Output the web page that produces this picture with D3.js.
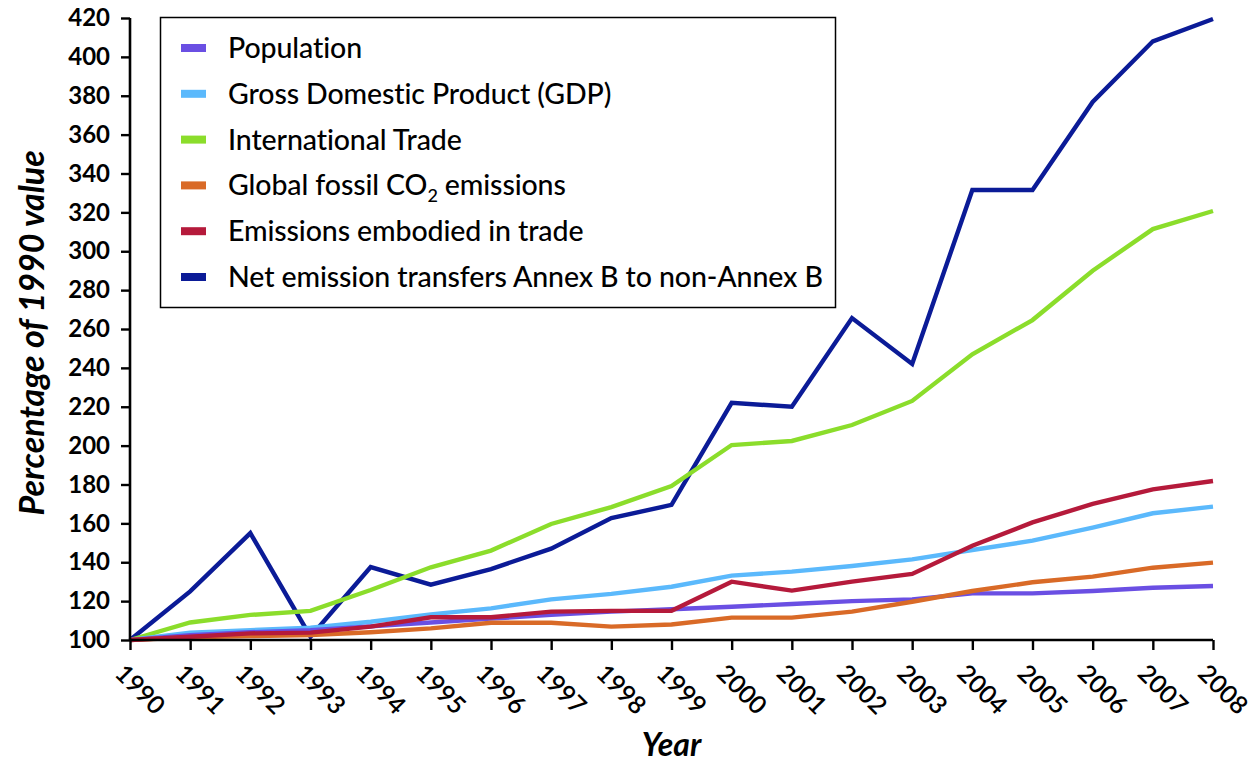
<!DOCTYPE html>
<html>
<head>
<meta charset="utf-8">
<script src="https://cdn.jsdelivr.net/npm/d3@7"></script>
<style>
  body { margin: 0; background: #fff; }
  svg { display: block; }
</style>
</head>
<body>
<div id="chart"></div>
<script>
// values (percent of 1990 value)
var years = [1990, 1991, 1992, 1993, 1994, 1995, 1996, 1997, 1998, 1999,
             2000, 2001, 2002, 2003, 2004, 2005, 2006, 2007, 2008];
var population = [100, 102.5, 104, 105, 107, 109, 111, 112.9, 114.6, 115.8,
                  117.1, 118.5, 120, 120.9, 124, 124, 125.2, 126.9, 127.8];
var gdp = [100, 103.8, 105.1, 106.3, 109.4, 113.2, 116.3, 120.9, 123.7, 127.4,
           133.1, 135.2, 138.1, 141.5, 146.3, 151.1, 157.8, 165.2, 168.6];
var trade = [100, 109, 112.9, 115, 125.7, 137.4, 146, 159.7, 168.4, 179.2,
             200.3, 202.4, 210.6, 223, 247, 264.6, 290, 311.4, 320.7];
var fossilCO2 = [100, 101.4, 102, 102.6, 104, 106, 108.9, 108.9, 106.9, 108,
                 111.5, 111.5, 114.6, 119.7, 125.2, 129.7, 132.6, 137.2, 139.8];
var embodied = [100, 101.7, 103.4, 103.8, 106.9, 111.7, 111.7, 114.6, 115, 115,
                130, 125.4, 130, 134, 148.5, 160.5, 170, 177.5, 181.8];
var netTransfers = [100, 125, 155, 101.7, 137.5, 128.5, 136.5, 147, 162.7, 169.5,
                    222, 220, 265.6, 242, 331.5, 331.5, 376.8, 408, 419.5];
var yTicks = d3.range(100, 421, 20);

var seriesNames = ["Population", "Gross Domestic Product (GDP)", "International Trade",
                   "Global fossil CO2 emissions", "Emissions embodied in trade",
                   "Net emission transfers Annex B to non-Annex B"];
var seriesColors = ["#6a4fe3", "#5bb9fc", "#8bdd2b", "#d96a27", "#b51a3b", "#0b1b97"];
var seriesValues = [population, gdp, trade, fossilCO2, embodied, netTransfers];
// drawing order, bottom to top
var drawOrder = [5, 2, 1, 0, 3, 4];

var w = 1258;
var h = 763;
var margin = {left: 130, right: 45, top: 18, bottom: 123};

var svg = d3.select("#chart")
    .append("svg")
    .attr("width", w)
    .attr("height", h);

var x = d3.scaleLinear()
    .domain([1990, 2008])
    .range([margin.left, w - margin.right]);

var y = d3.scaleLinear()
    .domain([100, 420])
    .range([h - margin.bottom, margin.top]);

var font = "Lato, 'Open Sans', sans-serif";

// lines
var line = d3.line()
    .x(function(d, i) { return x(years[i]); })
    .y(function(d) { return y(d); });

svg.selectAll("path.series")
    .data(drawOrder)
    .enter()
    .append("path")
    .attr("class", "series")
    .attr("d", function(k) { return line(seriesValues[k]); })
    .attr("fill", "none")
    .attr("stroke", function(k) { return seriesColors[k]; })
    .attr("stroke-width", 4.4)
    .attr("stroke-linejoin", "miter");

// y axis
var yAxis = svg.append("g")
    .attr("transform", "translate(" + margin.left + ",0)")
    .call(d3.axisLeft(y).tickValues(yTicks).tickSize(9).tickPadding(11));
yAxis.select(".domain").attr("stroke-width", 2.6).attr("d",
    "M0," + y(420) + "V" + y(100));
yAxis.selectAll(".tick line").attr("stroke-width", 2.4);
yAxis.selectAll(".tick text")
    .attr("font-family", font)
    .attr("font-weight", "bold")
    .attr("font-size", "24px")
    .attr("fill", "#000");

// x axis
var xAxis = svg.append("g")
    .attr("transform", "translate(0," + (h - margin.bottom) + ")")
    .call(d3.axisBottom(x).tickValues(years).tickFormat(d3.format("d")).tickSize(10));
xAxis.select(".domain").attr("stroke-width", 2.6).attr("d",
    "M" + x(1990) + ",0H" + x(2008));
xAxis.selectAll(".tick line").attr("stroke-width", 2.4);
xAxis.selectAll(".tick text")
    .attr("font-family", font)
    .attr("font-weight", "600")
    .attr("font-size", "25px")
    .attr("fill", "#000")
    .attr("text-anchor", "start")
    .attr("x", 0)
    .attr("y", 0)
    .attr("dy", "0")
    .attr("transform", "translate(-17,35) rotate(45)");

// axis titles
svg.append("text")
    .attr("transform", "translate(44," + y(258) + ") rotate(-90)")
    .attr("text-anchor", "middle")
    .attr("font-family", font)
    .attr("font-weight", "bold")
    .attr("font-style", "italic")
    .attr("font-size", "34px")
    .text("Percentage of 1990 value");

svg.append("text")
    .attr("x", x(1999))
    .attr("y", 756)
    .attr("text-anchor", "middle")
    .attr("font-family", font)
    .attr("font-weight", "bold")
    .attr("font-style", "italic")
    .attr("font-size", "32px")
    .text("Year");

// legend
var legend = svg.append("g");
legend.append("rect")
    .attr("x", 160.5)
    .attr("y", 17.5)
    .attr("width", 675)
    .attr("height", 290)
    .attr("fill", "#fff")
    .attr("stroke", "#000")
    .attr("stroke-width", 1.5);

var items = legend.selectAll("g.item")
    .data(seriesNames)
    .enter()
    .append("g")
    .attr("class", "item")
    .attr("transform", function(d, i) { return "translate(181," + (48 + i * 45.8) + ")"; });

items.append("rect")
    .attr("x", 0)
    .attr("y", -4)
    .attr("width", 25)
    .attr("height", 8)
    .attr("fill", function(d, i) { return seriesColors[i]; });

var labels = items.append("text")
    .attr("x", 47)
    .attr("y", 10)
    .attr("font-family", font)
    .attr("font-weight", "500")
    .attr("font-size", "28.5px")
    .attr("letter-spacing", "-0.1px")
    .attr("fill", "#000");

labels.each(function(d) {
    var t = d3.select(this);
    if (d.indexOf("CO2") >= 0) {
        t.append("tspan").text("Global fossil CO");
        t.append("tspan").attr("font-size", "18px").attr("dy", 7).text("2");
        t.append("tspan").attr("dy", -7).text(" emissions");
    } else {
        t.text(d);
    }
});
</script>
</body>
</html>
